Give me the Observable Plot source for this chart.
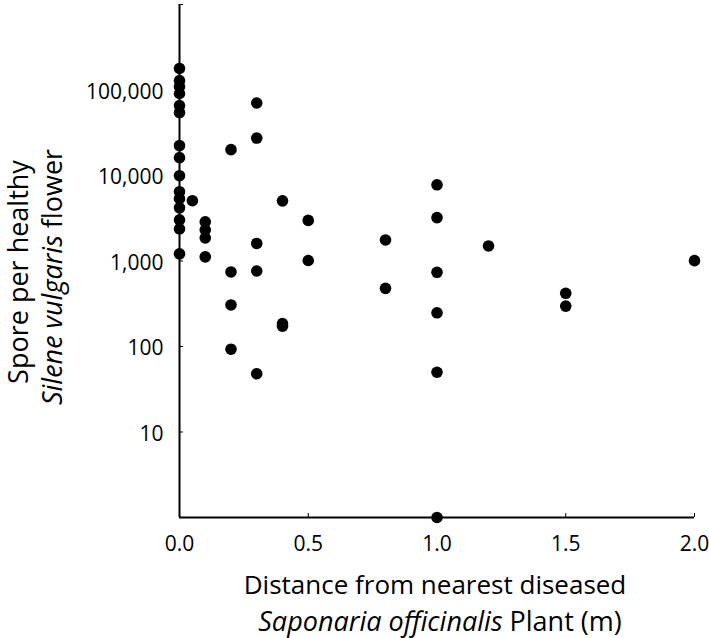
<!DOCTYPE html>
<html><head><meta charset="utf-8">
<script src="https://cdn.jsdelivr.net/npm/d3@7"></script>
<script src="https://cdn.jsdelivr.net/npm/@observablehq/plot@0.6"></script>
<style>body{margin:0;background:#fff;} svg{display:block}</style>
</head><body><div id="chart"></div>
<script>
const distance = [
  0,0,0,0,0,0,0,0,0,0,0,0,0,0,0,
  0.05,
  0.1,0.1,0.1,0.1,
  0.2,0.2,0.2,0.2,
  0.3,0.3,0.3,0.3,0.3,
  0.4,0.4,0.4,
  0.5,0.5,
  0.8,0.8,
  1,1,1,1,1,1,
  1.2,
  1.5,1.5,
  2
];
const spores = [
  178600,129200,109900,91000,65800,54500,22350,16170,9950,6460,5350,4190,3030,2380,1210,
  5070,
  2870,2315,1865,1117,
  20070,745,306,93,
  70500,27400,1604,764,48,
  5050,185,173,
  2984,1014,
  1763,479,
  7780,3220,738,248,50,1,
  1500,
  419,297,
  1009
];
const xTicks = [0, 0.5, 1, 1.5, 2];
const xTickLabels = ["0.0", "0.5", "1.0", "1.5", "2.0"];
const xTickMarks = [0.5, 1, 1.5, 2];
const yTicks = [10, 100, 1000, 10000, 100000];
const yTickLabels = ["10", "100", "1,000", "10,000", "100,000"];
const yTickMarks = [10, 100, 1000, 10000, 100000, 1000000];
const xTitle1 = "Distance from nearest diseased";
const xTitle2Italic = "Saponaria officinalis";
const xTitle2Rest = " Plant (m)";
const yTitle1 = "Spore per healthy";
const yTitle2Italic = "Silene vulgaris";
const yTitle2Rest = " flower";

const data = distance.map((d, i) => ({distance: d, spores: spores[i]}));
const font = "'Open Sans', sans-serif";

const chart = Plot.plot({
  width: 709, height: 638,
  marginLeft: 179, marginRight: 15, marginTop: 4, marginBottom: 121,
  style: {fontFamily: font, background: "white", color: "black"},
  x: {domain: [0, 2]},
  y: {type: "log", domain: [1, 1e6]},
  marks: [
    Plot.axisY({ticks: yTicks, tickSize: 0, tickPadding: 16, dy: 2, tickFormat: d => yTickLabels[yTicks.indexOf(d)], fontSize: 21, label: null}),
    Plot.axisY({ticks: yTickMarks, tickSize: 4, dx: 4, tickFormat: () => "", label: null}),
    Plot.axisX({ticks: xTicks, tickSize: 0, tickPadding: 19, tickFormat: d => xTickLabels[xTicks.indexOf(d)], fontSize: 21, label: null}),
    Plot.axisX({ticks: xTickMarks, tickSize: 4, dy: -4, tickFormat: () => "", label: null}),
    Plot.ruleX([0], {stroke: "black", strokeWidth: 2}),
    Plot.ruleY([1], {stroke: "black", strokeWidth: 2}),
    Plot.dot(data, {x: "distance", y: "spores", r: 5.8, fill: "black", stroke: "none"})
  ]
});

document.getElementById("chart").appendChild(chart);
const svg = d3.select(chart);
const g = svg.append("g").attr("font-family", font).attr("fill", "black");

g.append("text").attr("x", 435).attr("y", 584).attr("font-size", 26).attr("text-anchor", "middle").attr("dominant-baseline", "central").text(xTitle1);
const t2 = g.append("text").attr("x", 440).attr("y", 620).attr("font-size", 27).attr("text-anchor", "middle").attr("dominant-baseline", "central");
t2.append("tspan").attr("font-style", "italic").text(xTitle2Italic);
t2.append("tspan").text(xTitle2Rest);

g.append("text").attr("transform", "translate(17,272) rotate(-90)").attr("font-size", 27).attr("text-anchor", "middle").attr("dominant-baseline", "central").text(yTitle1);
const t4 = g.append("text").attr("transform", "translate(51,277) rotate(-90)").attr("font-size", 27).attr("text-anchor", "middle").attr("dominant-baseline", "central");
t4.append("tspan").attr("font-style", "italic").text(yTitle2Italic);
t4.append("tspan").text(yTitle2Rest);
</script>
</body></html>
